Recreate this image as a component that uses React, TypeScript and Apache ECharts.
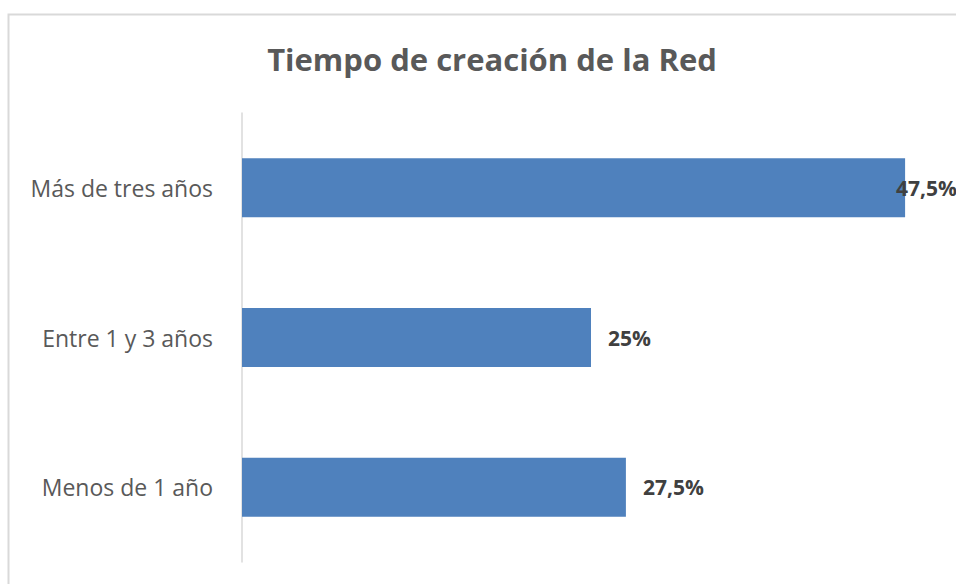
import React, { useEffect, useRef } from "react";
import * as echarts from "echarts";

const categories = ["Más de tres años", "Entre 1 y 3 años", "Menos de 1 año"];
const values = [47.5, 25, 27.5];
const labels = ["47,5%", "25%", "27,5%"];
const titleText = "Tiempo de creación de la Red";

export default function App() {
  const ref = useRef<HTMLDivElement>(null);
  useEffect(() => {
    if (!ref.current) return;
    const chart = echarts.init(ref.current, undefined, { renderer: "svg" });
    chart.setOption({
      animation: false,
      backgroundColor: "#ffffff",
      title: {
        text: titleText,
        left: 487,
        textAlign: "center",
        top: 38,
        textStyle: {
          fontFamily: "Open Sans",
          fontWeight: "bold",
          fontSize: 31,
          color: "#595959",
        },
      },
      graphic: [
        {
          type: "rect",
          shape: { x: 8.5, y: 14.5, width: 1000, height: 1000 },
          style: { fill: "none", stroke: "#d9d9d9", lineWidth: 2 },
          silent: true,
        },
      ],
      grid: { left: 242, top: 113, width: 698, height: 449 },
      xAxis: {
        type: "value",
        min: 0,
        max: 50,
        show: false,
      },
      yAxis: {
        type: "category",
        data: categories,
        inverse: true,
        axisLine: { show: true, lineStyle: { color: "#d9d9d9", width: 1.5 } },
        axisTick: { show: false },
        axisLabel: {
          fontFamily: "Open Sans",
          fontSize: 23,
          color: "#595959",
          margin: 29,
        },
      },
      series: [
        {
          type: "bar",
          barWidth: 59,
          itemStyle: { color: "#4f81bd" },
          data: values.map((v, i) => ({
            value: v,
            label: {
              show: true,
              position: "right",
              distance: i === 0 ? -9 : 17,
              formatter: labels[i],
              fontFamily: "Open Sans",
              fontWeight: "bold",
              fontSize: 21,
              color: "#404040",
            },
          })),
        },
      ],
    });
    return () => chart.dispose();
  }, []);
  return (
    <div
      ref={ref}
      style={{ position: "fixed", left: 0, top: 0, width: 956, height: 584 }}
    />
  );
}
